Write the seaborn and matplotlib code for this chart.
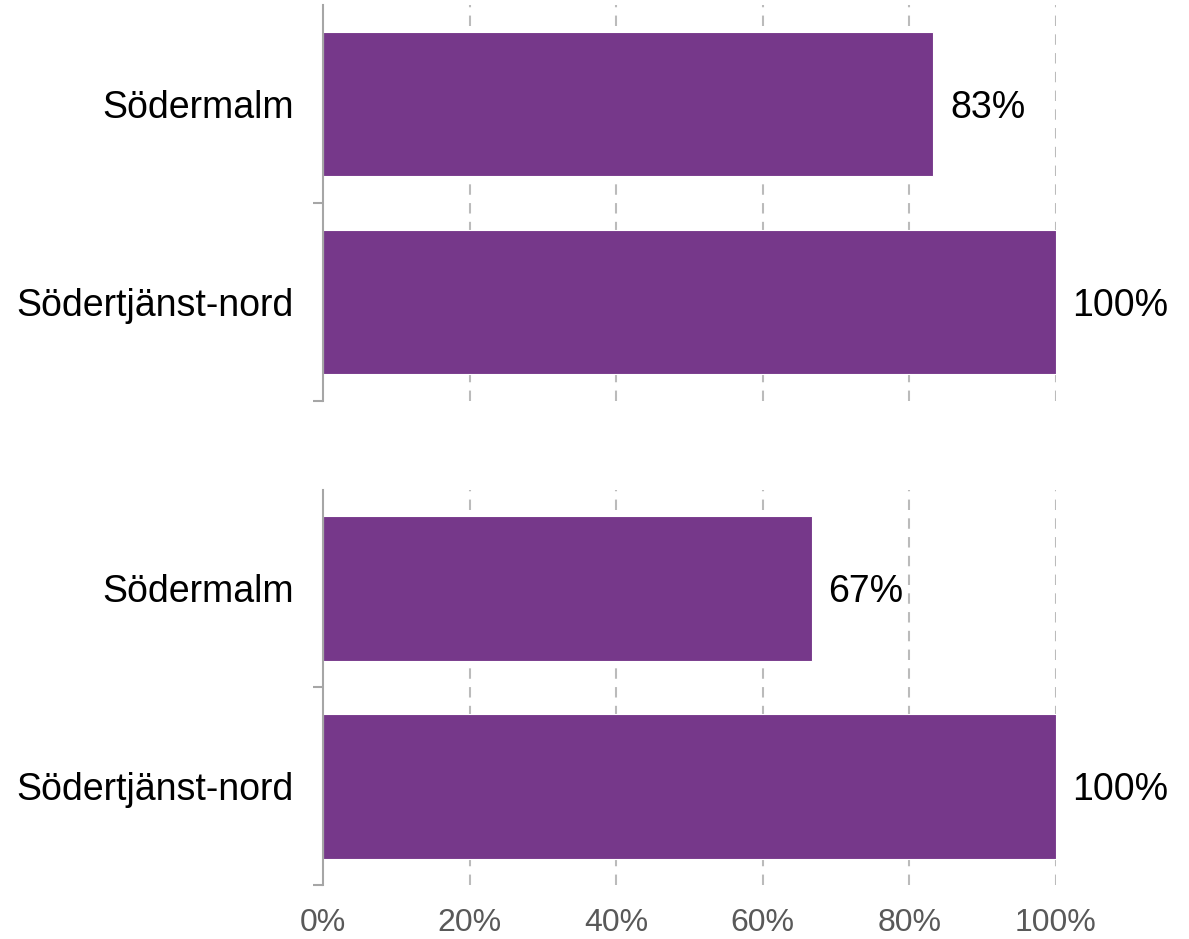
import pandas as pd
import seaborn as sns
import matplotlib.pyplot as plt
from matplotlib.ticker import FixedLocator, PercentFormatter

# data
areas = ['Södermalm', 'Södertjänst-nord']
top_values = [0.833, 1.0]
bottom_values = [0.667, 1.0]
value_labels_top = ['83%', '100%']
value_labels_bottom = ['67%', '100%']
x_ticks = [0, 0.2, 0.4, 0.6, 0.8, 1.0]

sns.set_style('white')
plt.rcParams['font.family'] = ['Liberation Sans', 'DejaVu Sans']

bar_color = '#76388A'
spine_color = '#A6A6A6'
grid_color = '#BBBBBB'

fig = plt.figure(figsize=(11.89, 9.39), dpi=100)
ax_top = fig.add_axes([0.2717, 0.573, 0.888 - 0.2717, 0.9947 - 0.573])
ax_bot = fig.add_axes([0.2717, 0.057, 0.888 - 0.2717, 0.4787 - 0.057])
axes = [ax_top, ax_bot]

panels = [(top_values, value_labels_top), (bottom_values, value_labels_bottom)]
for i, (ax, (vals, labs)) in enumerate(zip(axes, panels)):
    df = pd.DataFrame({'area': areas, 'value': vals})
    sns.barplot(data=df, x='value', y='area', orient='h', color=bar_color,
                saturation=1, width=0.73, edgecolor='white', linewidth=0.8, ax=ax)
    ax.set_xlim(0, 1)
    ax.set_ylim(1.5, -0.5)
    ax.set_xlabel('')
    ax.set_ylabel('')

    # value labels
    for c in ax.containers:
        texts = ax.bar_label(c, labels=labs, padding=12, fontsize=27, color='black')
        for t in texts:
            t.set_va('center_baseline')

    # grid
    for xv in x_ticks[1:]:
        ax.axvline(xv, color=grid_color, linestyle=(0, (5, 4)), linewidth=1.5, zorder=0)

    for s in ['top', 'right', 'bottom']:
        ax.spines[s].set_visible(False)
    ax.spines['left'].set_color(spine_color)
    ax.spines['left'].set_linewidth(1.5)

    ax.yaxis.set_minor_locator(FixedLocator([0.5, 1.5]))
    ax.tick_params(axis='y', which='major', length=0, labelsize=27, pad=21, labelcolor='black')
    ax.tick_params(axis='y', which='minor', length=7, width=1.5, color=spine_color, left=True)

    ax.set_xticks(x_ticks)
    if i == 0:
        ax.tick_params(axis='x', length=0, labelbottom=False)
    else:
        ax.xaxis.set_major_formatter(PercentFormatter(1.0, decimals=0))
        ax.tick_params(axis='x', length=0, labelsize=23, pad=16, labelcolor='#595959')

fig.savefig('out.png', dpi=100)
